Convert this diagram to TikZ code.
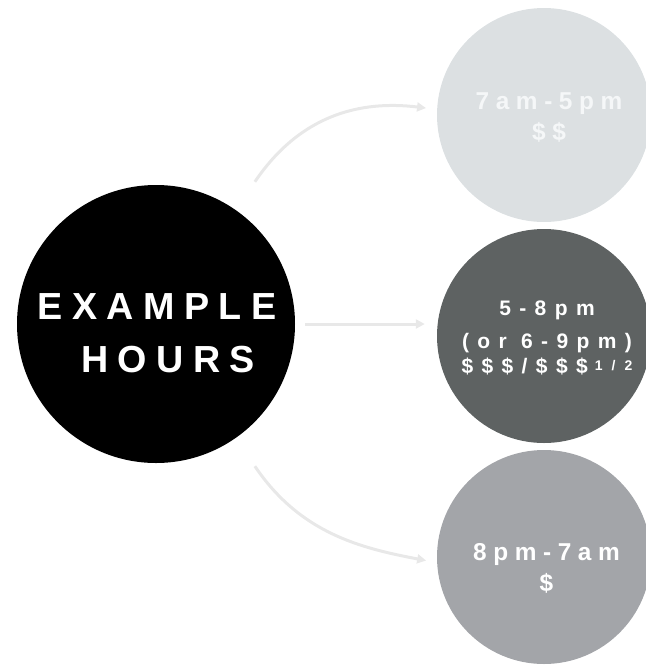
\documentclass[tikz,border=0pt]{standalone}
\usepackage{fontspec}
\setmainfont{Liberation Sans}
\usetikzlibrary{arrows.meta,calc}
\definecolor{cLight}{HTML}{DCE0E2}
\definecolor{cDark}{HTML}{5E6262}
\definecolor{cMid}{HTML}{A3A5A9}
\definecolor{cArrow}{HTML}{E8E8E8}
\definecolor{cTextLight}{HTML}{F5F7F8}
\begin{document}
\begin{tikzpicture}[x=1pt,y=-1pt,
  circ/.style={circle, draw=none, inner sep=0pt},
  lbl/.style={inner sep=0pt, align=center, text=white},
  conn/.style={draw=cArrow, line width=3pt, -{Triangle[length=9pt,width=9pt]}}]
\useasboundingbox (0,0) rectangle (646,665);
\node[circ, fill=black, minimum size=278pt] (main) at (156,324) {};
\node[circ, fill=cLight, minimum size=214pt] (top) at (544,115) {};
\node[circ, fill=cDark, minimum size=214pt] (mid) at (544,336) {};
\node[circ, fill=cMid, minimum size=214pt] (bot) at (544,557) {};
\node[lbl, font=\bfseries\fontsize{37.7}{53}\selectfont\addfontfeatures{LetterSpace=25}] (mainlbl) at (157,333) {EXAMPLE\\\hspace*{22pt}HOURS};
\node[lbl, text=cTextLight, font=\bfseries\fontsize{24.4}{31}\selectfont\addfontfeatures{LetterSpace=27}] (toplbl) at (549,117.5) {7am-5pm\\\$\$};
\node[lbl, font=\bfseries\fontsize{21}{25}\selectfont\addfontfeatures{LetterSpace=40}] (midlbl) at (547,338) {5-8pm\\[7.6pt](or 6-9pm)\\\$\$\$/\$\$\$\kern7pt\raisebox{3pt}{\fontsize{14}{14}\selectfont\addfontfeatures{LetterSpace=65}1/2}};
\node[lbl, font=\bfseries\fontsize{24.4}{31}\selectfont\addfontfeatures{LetterSpace=27}] (botlbl) at (546.5,568.7) {8pm-7am\\\$};
\draw[conn, shorten <=34pt, shorten >=11pt] (main.55.6) .. controls (300,115) and (360,100) .. (top.177);
\draw[conn, shorten <=10pt, shorten >=12pt] (main.east) -- (main.east -| mid.west);
\draw[conn, shorten <=34pt, shorten >=11pt] (main.-55.6) .. controls (300,533) and (360,548) .. (bot.183);
\end{tikzpicture}
\end{document}
